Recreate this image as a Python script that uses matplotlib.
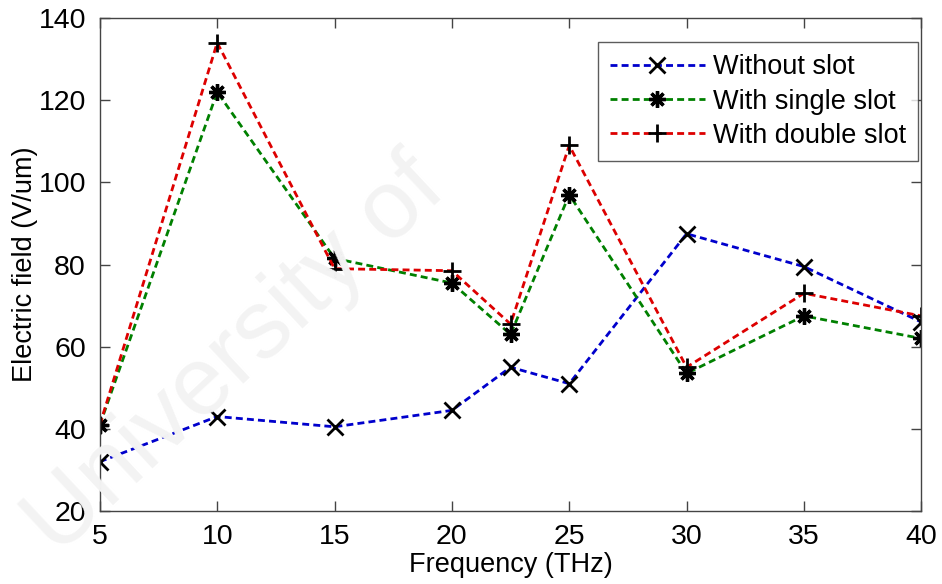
import matplotlib.pyplot as plt

plt.rcParams['font.family'] = ['Liberation Sans', 'DejaVu Sans']

# Frequency points (THz)
freq = [5, 10, 15, 20, 22.5, 25, 30, 35, 40]

# Electric field (V/um)
without_slot = [32, 43, 40.5, 44.5, 55, 51, 87.5, 79.5, 66]
single_slot = [41, 122, 81.5, 75.5, 63, 97, 53.5, 67.5, 62]
double_slot = [41, 134, 79, 78.5, 65.5, 109, 55, 73, 67.5]

fig = plt.figure(figsize=(9.42, 5.84), dpi=100)
ax = fig.add_axes([0.106, 0.125, 0.872, 0.844])

# faint watermark behind the plot
fig.text(0.075, 0.02, 'University of', fontsize=70, color='#f3f3f3',
         rotation=43, rotation_mode='anchor', ha='left', va='bottom', zorder=0)
ax.set_facecolor('none')

asterisk = (8, 2, 0)
ax.plot(freq, without_slot, '--', color='#0000cc', lw=2, dashes=(2.5, 1.5),
        marker='x', ms=11, mew=2, mec='black', label='Without slot')
ax.plot(freq, single_slot, '--', color='#008000', lw=2, dashes=(2.5, 1.5),
        marker=asterisk, ms=12, mew=2.4, mec='black', mfc='black', label='With single slot')
ax.plot(freq, double_slot, '--', color='#dd0000', lw=2, dashes=(2.5, 1.5),
        marker='+', ms=13, mew=2, mec='black', label='With double slot')

ax.set_xlim(5, 40)
ax.set_ylim(20, 140)
ax.set_xticks([5, 10, 15, 20, 25, 30, 35, 40])
ax.set_yticks([20, 40, 60, 80, 100, 120, 140])
ax.tick_params(direction='in', length=7, width=1, color='#444444', labelsize=20.5,
               top=True, right=True)
ax.tick_params(axis='x', pad=9)
ax.tick_params(axis='y', pad=10)
for s in ax.spines.values():
    s.set_color('#444444')
    s.set_linewidth(1)

ax.set_xlabel('Frequency (THz)', fontsize=19.5, labelpad=2)
ax.set_ylabel('Electric field (V/um)', fontsize=19.5, labelpad=0)

leg = ax.legend(loc='upper right', bbox_to_anchor=(0.996, 0.951), fontsize=19.5,
                fancybox=False, edgecolor='#333333', handlelength=3.5,
                handletextpad=0.3, borderaxespad=0, labelspacing=0.3, borderpad=0.45)
leg.get_frame().set_linewidth(1)

fig.savefig('out.png', dpi=100)
